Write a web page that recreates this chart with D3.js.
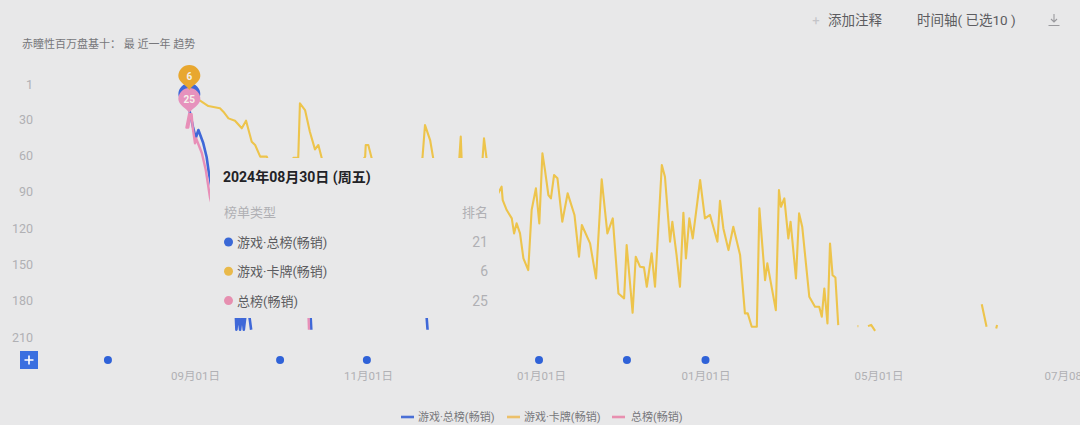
<!DOCTYPE html>
<html><head><meta charset="utf-8">
<script src="https://cdn.jsdelivr.net/npm/d3@7/dist/d3.min.js"></script>
<style>html,body{margin:0;padding:0;background:#e8e8e9;overflow:hidden}
text{font-family:Roboto,"Noto Sans CJK SC","Noto Sans",sans-serif}</style></head>
<body><svg id="c" width="1080" height="425"></svg>
<script>
const rankTicks=[1,30,60,90,120,150,180,210];
const tickDays=[0,61,122,180,241,308];
const tickLabels=["09月01日","11月01日","01月01日","01月01日","05月01日","07月08日"];
const annotationDays=[-30.7,30,60.6,121.3,152.3,180];
const seriesNames=["游戏·总榜(畅销)","游戏·卡牌(畅销)","总榜(畅销)"];
const seriesColors=["#3f68d8","#edc44c","#e88fb8"];
const pinDay=-2;
const tooltipRanks=[21,6,25];

const blueDays=[-2.1,-0.7,0.25,1.2,2.9,4.1,4.9,6,10,13.8,14.6,15.2,15.9,16.6,17.2,17.9,18.2,19,19.8,20.2,40.6,41,41.2,81.4,82,82.2];
const blueRanks=[21,36.5,45.6,39,49.8,61.3,74.6,88.6,120,160,204,190,204,190,204,190,null,190,204,null,185,204,null,185,204,null];
const pinkDays=[-2,-3,-2.4,-1.6,-1.2,-0.8,0,0.4,2.4,3.8,5.3,9,9.2,39.9,40.2,40.4];
const pinkRanks=[25,37,37,26,26,37,50,46,58,72,95,130,null,185,204,null];
const cardDays=[-2,-0.5,1.8,4.7,8.8,10,11.8,14.1,16.5,18,20,21.2,23,25.3,30,34.7,36.4,37,38.8,40.5,42.3,43.5,44.7,52,60,60.2,61.1,62.3,70,80.2,81.1,82.9,84,89,93.2,93.7,94,98,101.4,101.9,102.8,105,
108.1,108.5,109.9,111.7,112.5,113.4,114.6,115.8,117.5,118.7,120.2,121.4,122.5,123.4,124.6,125.5,126.6,127.8,129.5,131.4,133.8,135.4,136.4,139.3,141.4,143.4,145.4,147.3,149.3,151.3,152.2,154.3,155.4,156.9,158.3,159.3,161,162.2,164.6,165.7,167.5,168.3,169.8,171,172.2,173.1,174.3,175.5,178.1,179.8,181.6,184.2,185.1,186.3,188.1,189.8,192.2,193.9,194.9,196.3,198.1,199,201,201.8,204.8,205.9,206.6,207.8,209.2,210,211.9,213,214.1,216.6,218.6,220.1,221,221.9,223,223.9,224.8,225.8,226.8,227,233.6,233.9,234,237.3,238.4,239.8,240,277.4,279.1,279.3,282.5,282.8,283];
const cardRanks=[6,11,14.8,19.2,21.1,23.9,29.4,31.3,37.6,31.3,48.7,51.4,61,61,90,62,62,17,22.5,40.4,55,51.4,62.4,90,61,51.4,51.4,62.4,90,62,34.9,47.3,62.4,90,62.4,44.5,62.4,90,62.4,45.9,62.4,100,
85.8,96.9,105.1,112,124.4,116.1,124.4,145.1,154.7,105.1,87.2,116.1,58.3,72.1,92.7,95.5,76.2,78.9,114.8,91.3,109.2,143.7,117.5,132.7,161.6,79.8,124.4,112,174,178.1,134,190,143.7,151.9,152.5,168.5,140.9,168.5,67.9,77.6,131.3,114.8,142.3,168.5,107.3,145.1,112,128.5,80.3,112,109.2,131.3,97.4,120.3,138.2,118.9,142.3,190.5,190.5,201.5,201.5,103.7,163,149.2,187.8,88.6,102.4,95.5,128.6,114.8,161.6,107.9,118.9,176.8,185,185,193.3,169.9,198.8,132.7,158.9,160.8,200.2,null,201,201,null,201,200,205,null,183,201.6,null,203,200,null];

const svg=d3.select("#c");
const x=d3.scaleLinear().domain([-61,310]).range([22,1074.2]);
const y=d3.scaleLinear().domain([1,210]).range([84,337]);
const GRAY="#b0b0b4",TEXT="#5c5c60";

svg.append("defs").append("clipPath").attr("id","plot").append("rect")
  .attr("x",22).attr("y",60).attr("width",1058).attr("height",272);

// header
svg.append("text").attr("x",22).attr("y",48).attr("font-size",11).attr("fill","#77777b")
  .text("赤瞳性百万盘基十： 最 近一年 趋势");
svg.append("text").attr("x",816).attr("y",25).attr("text-anchor","middle").attr("font-size",13).attr("fill","#c4c4c8").text("+");
svg.append("text").attr("x",828).attr("y",25).attr("font-size",13.5).attr("fill",TEXT).text("添加注释");
svg.append("text").attr("x",917).attr("y",25).attr("font-size",13.5).attr("fill",TEXT).attr("xml:space","preserve").text("时间轴( 已选10 )");
svg.append("g").attr("transform","translate(1054,20)").append("path")
  .attr("d","M0,-6V2M-3,-1L0,2L3,-1M-5.5,5.5H5.5").attr("fill","none").attr("stroke","#9a9a9e").attr("stroke-width",1.1);

// axes
const yAxis=svg.append("g").attr("transform","translate(33,0)")
  .call(d3.axisLeft(y).tickValues(rankTicks).tickSize(0).tickPadding(0));
yAxis.select(".domain").remove();
yAxis.selectAll("text").attr("font-size",12.5).attr("fill",GRAY);
const xAxis=svg.append("g").attr("transform","translate(0,372)")
  .call(d3.axisBottom(x).tickValues(tickDays).tickSize(0).tickPadding(0).tickFormat((d,i)=>tickLabels[i]));
xAxis.select(".domain").remove();
xAxis.selectAll("text").attr("font-size",11.5).attr("fill",GRAY);

// lines
const rows=(days,ranks)=>days.map((d,i)=>({d,r:ranks[i]}));
const line=d3.line().defined(p=>p.r!==null).x(p=>x(p.d)).y(p=>y(p.r));
const plot=svg.append("g").attr("clip-path","url(#plot)").attr("fill","none").attr("stroke-linejoin","round");
plot.append("path").attr("d",line(rows(blueDays,blueRanks))).attr("stroke",seriesColors[0]).attr("stroke-width",2.6);
plot.append("path").attr("d",line(rows(cardDays,cardRanks))).attr("stroke",seriesColors[1]).attr("stroke-width",2.1);
plot.append("path").attr("d",line(rows(pinkDays,pinkRanks))).attr("stroke",seriesColors[2]).attr("stroke-width",2.4);

// tooltip panel
const tip=svg.append("g");
tip.append("rect").attr("x",210).attr("y",158).attr("width",289).attr("height",160).attr("fill","#e8e8e9");
tip.append("text").attr("x",223).attr("y",182).attr("font-size",14).attr("font-weight",700).attr("fill","#222226").text("2024年08月30日 (周五)");
tip.append("text").attr("x",224).attr("y",217).attr("font-size",13).attr("fill",GRAY).text("榜单类型");
tip.append("text").attr("x",488).attr("y",217).attr("text-anchor","end").attr("font-size",13).attr("fill",GRAY).text("排名");
const rowsTip=tip.selectAll("g.row").data(seriesNames).join("g").attr("class","row")
  .attr("transform",(d,i)=>`translate(0,${242+i*29.3})`);
rowsTip.append("circle").attr("cx",228.5).attr("r",4.5).attr("fill",(d,i)=>["#3a68d6","#e9b94a","#e68fb0"][i]);
rowsTip.append("text").attr("x",237).attr("y",5).attr("font-size",13).attr("fill",TEXT).text(d=>d);
rowsTip.append("text").attr("x",488).attr("y",5).attr("text-anchor","end").attr("font-size",14).attr("fill",GRAY).text((d,i)=>tooltipRanks[i]);

// pins: drawn in series index order blue, pink, card
const pinPath="M0,0C-3,-5 -11,-8 -11,-14A11,11 0 1 1 11,-14C11,-8 3,-5 0,0Z";
const pinOrder=[0,2,1],pinFill=["#3f68d8","#e8a72f","#e692bd"];
const pins=svg.selectAll("g.pin").data(pinOrder).join("g").attr("class","pin")
  .attr("transform",i=>`translate(${x(pinDay)},${y(tooltipRanks[i])})`);
pins.append("path").attr("d",pinPath).attr("fill",i=>pinFill[i]);
pins.filter(i=>i!==0).append("text").attr("y",-10).attr("text-anchor","middle").attr("font-size",10).attr("font-weight",700).attr("fill","#f4f0ea")
  .text(i=>tooltipRanks[i]);

// annotation row
svg.selectAll("circle.ann").data(annotationDays).join("circle").attr("class","ann")
  .attr("cx",d=>x(d)).attr("cy",360).attr("r",4).attr("fill","#2f62d8");
svg.append("rect").attr("x",20).attr("y",351).attr("width",18).attr("height",18).attr("fill","#3a6fe0");
svg.append("path").attr("d","M24.5,360H33.5M29,355.5V364.5").attr("stroke","#fff").attr("stroke-width",1.6);

// legend
const legendLineX=[401,507,612],legendTextX=[418,524,631];
const lg=svg.selectAll("g.lg").data(seriesNames).join("g").attr("class","lg");
lg.append("line").attr("x1",(d,i)=>legendLineX[i]).attr("x2",(d,i)=>legendLineX[i]+13).attr("y1",417).attr("y2",417)
  .attr("stroke-width",2.6).attr("stroke",(d,i)=>["#4a6fd6","#ecc06a","#e88fb0"][i]);
lg.append("text").attr("x",(d,i)=>legendTextX[i]).attr("y",421).attr("font-size",11).attr("fill","#77777b").text(d=>d);
</script></body></html>
